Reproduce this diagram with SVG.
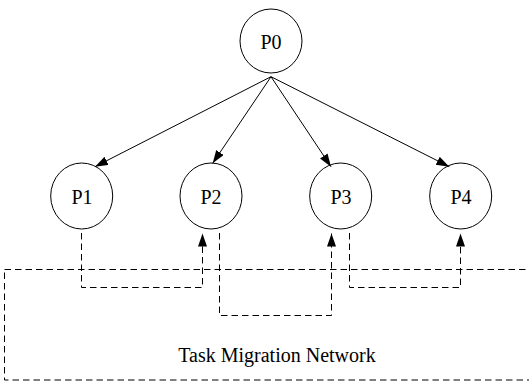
<svg xmlns="http://www.w3.org/2000/svg" width="529" height="381" viewBox="0 0 529 381">
<style>
.node ellipse{fill:#fff;stroke:#000;stroke-width:1}
.node text{font-size:20px;fill:#000;text-anchor:middle}
.edge{fill:none;stroke:#000;stroke-width:1}
.dash{fill:none;stroke:#000;stroke-width:1;stroke-dasharray:6.5 4}
.label{font-size:20px;fill:#000;text-anchor:middle}
</style>
<defs>
<marker id="ah" markerUnits="userSpaceOnUse" markerWidth="14" markerHeight="10" refX="13" refY="4.5" orient="auto">
<path d="M0,0 L13,4.5 L0,9 z" fill="#000"/>
</marker>
</defs>
<g font-family="'Liberation Serif', 'Times New Roman', 'DejaVu Serif', serif">
<g id="network">
<rect class="dash" x="4.5" y="269.5" width="540" height="110.5"/>
<text class="label" x="277" y="361.5">Task Migration Network</text>
</g>
<g id="P0" class="node"><ellipse cx="271" cy="41" rx="31" ry="32"/><text x="271" y="48.5">P0</text></g>
<g id="P1" class="node"><ellipse cx="81.7" cy="196" rx="31" ry="33"/><text x="82" y="204">P1</text></g>
<g id="P2" class="node"><ellipse cx="211" cy="196" rx="31" ry="33"/><text x="211" y="204">P2</text></g>
<g id="P3" class="node"><ellipse cx="340.7" cy="196" rx="31" ry="33"/><text x="341" y="204">P3</text></g>
<g id="P4" class="node"><ellipse cx="460.7" cy="196" rx="31" ry="33"/><text x="461" y="204">P4</text></g>
</g>
<g id="connectors">
<line class="edge" x1="271" y1="76.7" x2="95" y2="166.7" marker-end="url(#ah)"/>
<line class="edge" x1="271" y1="76.7" x2="212.7" y2="163.3" marker-end="url(#ah)"/>
<line class="edge" x1="271" y1="76.7" x2="331" y2="166.7" marker-end="url(#ah)"/>
<line class="edge" x1="271" y1="76.7" x2="449.3" y2="166.7" marker-end="url(#ah)"/>
<path class="dash" d="M81.5,233 V287.5 H202.5 V233.5" marker-end="url(#ah)"/>
<path class="dash" d="M219.5,233 V315.5 H331.5 V233.5" marker-end="url(#ah)"/>
<path class="dash" d="M349.5,233 V287.5 H460.5 V233.5" marker-end="url(#ah)"/>
</g>
</svg>
